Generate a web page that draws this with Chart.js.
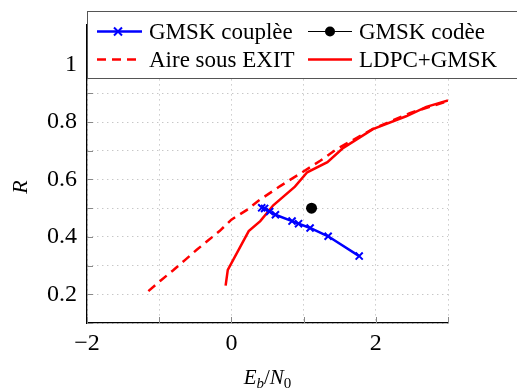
<!DOCTYPE html>
<html>
<head>
<meta charset="utf-8">
<script src="https://cdn.jsdelivr.net/npm/chart.js@4"></script>
<style>
  body { margin: 0; background: #fff; }
  #wrap { width: 517px; height: 389px; }
</style>
</head>
<body>
<div id="wrap"><canvas id="js--chart" width="517" height="389"></canvas></div>
<script>
// data
const coupleeX = [0.42, 0.46, 0.53, 0.61, 0.84, 0.93, 1.09, 1.34, 1.77];
const coupleeY = [0.501, 0.499, 0.488, 0.477, 0.455, 0.446, 0.431, 0.402, 0.333];
const codeeX = [1.11];
const codeeY = [0.5];
const exitX = [-1.15, -0.97, -0.81, -0.64, -0.48, -0.32, -0.16, 0.0, 0.21, 0.37, 0.67, 0.95, 1.23, 1.46, 1.96, 2.47, 3.0];
const exitY = [0.211, 0.25, 0.283, 0.32, 0.355, 0.388, 0.421, 0.46, 0.493, 0.525, 0.576, 0.62, 0.665, 0.706, 0.776, 0.831, 0.873];
const ldpcX = [-0.08, -0.05, 0.24, 0.4, 0.58, 0.88, 1.05, 1.33, 1.55, 1.96, 2.42, 2.7, 3.0];
const ldpcY = [0.23, 0.285, 0.42, 0.455, 0.51, 0.575, 0.625, 0.66, 0.71, 0.775, 0.82, 0.853, 0.875];

const seriesNames = ["GMSK couplèe", "GMSK codèe", "Aire sous EXIT", "LDPC+GMSK"];
const xTicks = [-2, -1, 0, 1, 2, 3];
const xLabels = [-2, 0, 2];
const yTicks = [0.1, 0.2, 0.3, 0.4, 0.5, 0.6, 0.7, 0.8, 0.9, 1.0, 1.1];
const yLabels = [0.2, 0.4, 0.6, 0.8, 1];

const serif = "'Liberation Serif', 'DejaVu Serif', serif";

function points(xs, ys) {
  return xs.map(function (x, i) {
    return { x: x, y: ys[i] };
  });
}

// inward tick marks, axis titles and the legend box
const decorations = {
  id: "decorations",
  afterDraw: function (chart) {
    const ctx = chart.ctx;
    const area = chart.chartArea;
    const xs = chart.scales.x;
    const ys = chart.scales.y;

    ctx.save();
    ctx.strokeStyle = "#888";
    ctx.lineWidth = 1;
    xTicks.forEach(function (v) {
      const px = Math.round(xs.getPixelForValue(v)) + 0.5;
      ctx.beginPath();
      ctx.moveTo(px, area.bottom);
      ctx.lineTo(px, area.bottom - 6);
      ctx.stroke();
    });
    yTicks.forEach(function (v) {
      const py = Math.round(ys.getPixelForValue(v)) + 0.5;
      ctx.beginPath();
      ctx.moveTo(area.left, py);
      ctx.lineTo(area.left + 6, py);
      ctx.stroke();
    });

    // y title
    ctx.fillStyle = "#000";
    ctx.save();
    ctx.translate(21, 187);
    ctx.rotate(-Math.PI / 2);
    ctx.font = "italic 22px " + serif;
    ctx.textAlign = "center";
    ctx.textBaseline = "middle";
    ctx.fillText("R", 0, 0);
    ctx.restore();

    // x title E_b/N_0
    const big = "italic 21px " + serif;
    const small = "italic 15px " + serif;
    const smallUp = "15px " + serif;
    const norm = "21px " + serif;
    const parts = [
      { t: "E", f: big, dy: 0 },
      { t: "b", f: small, dy: 4 },
      { t: "/", f: norm, dy: 0 },
      { t: "N", f: big, dy: 0 },
      { t: "0", f: smallUp, dy: 4 },
    ];
    let total = 0;
    parts.forEach(function (p) {
      ctx.font = p.f;
      p.w = ctx.measureText(p.t).width;
      total += p.w;
    });
    let cx = (area.left + area.right) / 2 - total / 2;
    ctx.textAlign = "left";
    ctx.textBaseline = "alphabetic";
    parts.forEach(function (p) {
      ctx.font = p.f;
      ctx.fillText(p.t, cx, 384 + p.dy);
      cx += p.w;
    });

    // legend
    ctx.fillStyle = "#fff";
    ctx.fillRect(area.left, 11, 520 - area.left, 68);
    ctx.strokeStyle = "#555";
    ctx.lineWidth = 1;
    ctx.strokeRect(area.left + 0.5, 11.5, 520 - area.left, 67);

    const row1 = 31.5;
    const row2 = 59.5;

    ctx.lineWidth = 2.5;
    ctx.strokeStyle = "#0000ff";
    ctx.beginPath();
    ctx.moveTo(97, row1);
    ctx.lineTo(142, row1);
    ctx.stroke();
    ctx.lineWidth = 2;
    ctx.beginPath();
    ctx.moveTo(114, row1 - 4);
    ctx.lineTo(122, row1 + 4);
    ctx.moveTo(122, row1 - 4);
    ctx.lineTo(114, row1 + 4);
    ctx.stroke();

    ctx.lineWidth = 1;
    ctx.strokeStyle = "#000";
    ctx.beginPath();
    ctx.moveTo(308, row1);
    ctx.lineTo(352, row1);
    ctx.stroke();
    ctx.fillStyle = "#000";
    ctx.beginPath();
    ctx.arc(330, row1, 5, 0, Math.PI * 2);
    ctx.fill();

    ctx.lineWidth = 2.5;
    ctx.strokeStyle = "#ff0000";
    ctx.setLineDash([9, 6]);
    ctx.beginPath();
    ctx.moveTo(97, row2);
    ctx.lineTo(142, row2);
    ctx.stroke();
    ctx.setLineDash([]);
    ctx.beginPath();
    ctx.moveTo(308, row2);
    ctx.lineTo(352, row2);
    ctx.stroke();

    ctx.font = "23px " + serif;
    ctx.fillStyle = "#000";
    ctx.fillText(seriesNames[0], 149, row1 + 7);
    ctx.fillText(seriesNames[1], 359, row1 + 7);
    ctx.fillText(seriesNames[2], 149, row2 + 7);
    ctx.fillText(seriesNames[3], 359, row2 + 7);
    ctx.restore();
  },
};

const config = {
  type: "scatter",
  data: {
    datasets: [
      {
        label: seriesNames[0],
        data: points(coupleeX, coupleeY),
        showLine: true,
        borderColor: "#0000ff",
        backgroundColor: "#0000ff",
        borderWidth: 2.5,
        pointStyle: "crossRot",
        pointRadius: 5,
        pointBorderWidth: 2,
      },
      {
        label: seriesNames[1],
        data: points(codeeX, codeeY),
        showLine: false,
        borderColor: "#000",
        backgroundColor: "#000",
        pointStyle: "circle",
        pointRadius: 5.5,
        pointBorderWidth: 0,
      },
      {
        label: seriesNames[2],
        data: points(exitX, exitY),
        showLine: true,
        borderColor: "#ff0000",
        borderWidth: 2.5,
        borderDash: [9, 6],
        pointRadius: 0,
      },
      {
        label: seriesNames[3],
        data: points(ldpcX, ldpcY),
        showLine: true,
        borderColor: "#ff0000",
        borderWidth: 2.5,
        pointRadius: 0,
      },
    ],
  },
  options: {
    responsive: false,
    animation: false,
    devicePixelRatio: 1,
    layout: { padding: { top: 11, right: 69, left: 0, bottom: 0 } },
    plugins: {
      legend: { display: false },
      tooltip: { enabled: false },
    },
    scales: {
      x: {
        type: "linear",
        min: -2,
        max: 3,
        afterBuildTicks: function (scale) {
          scale.ticks = xTicks.map(function (v) { return { value: v }; });
        },
        afterFit: function (scale) {
          scale.height = 66;
        },
        ticks: {
          font: { family: serif, size: 24 },
          color: "#000",
          padding: 6,
          maxRotation: 0,
          autoSkip: false,
          callback: function (v) {
            if (xLabels.indexOf(v) === -1) return "";
            return v < 0 ? "\u2212" + Math.abs(v) : String(v);
          },
        },
        grid: { color: "#b0b0b0", lineWidth: 1, drawTicks: false },
        border: { color: "#000", width: 1.3, dash: [1, 4] },
      },
      y: {
        type: "linear",
        min: 0.1,
        max: 1.14,
        afterBuildTicks: function (scale) {
          scale.ticks = yTicks.map(function (v) { return { value: v }; });
        },
        afterFit: function (scale) {
          scale.width = 87;
        },
        ticks: {
          font: { family: serif, size: 24 },
          color: "#000",
          padding: 10,
          autoSkip: false,
          callback: function (v) {
            for (let i = 0; i < yLabels.length; i++) {
              if (Math.abs(yLabels[i] - v) < 1e-6) return String(yLabels[i]);
            }
            return "";
          },
        },
        grid: { color: "#b0b0b0", lineWidth: 1, drawTicks: false },
        border: { color: "#000", width: 1.3, dash: [1, 4] },
      },
    },
  },
  plugins: [decorations],
};

new Chart(document.getElementById("js--chart"), config);
</script>
</body>
</html>
